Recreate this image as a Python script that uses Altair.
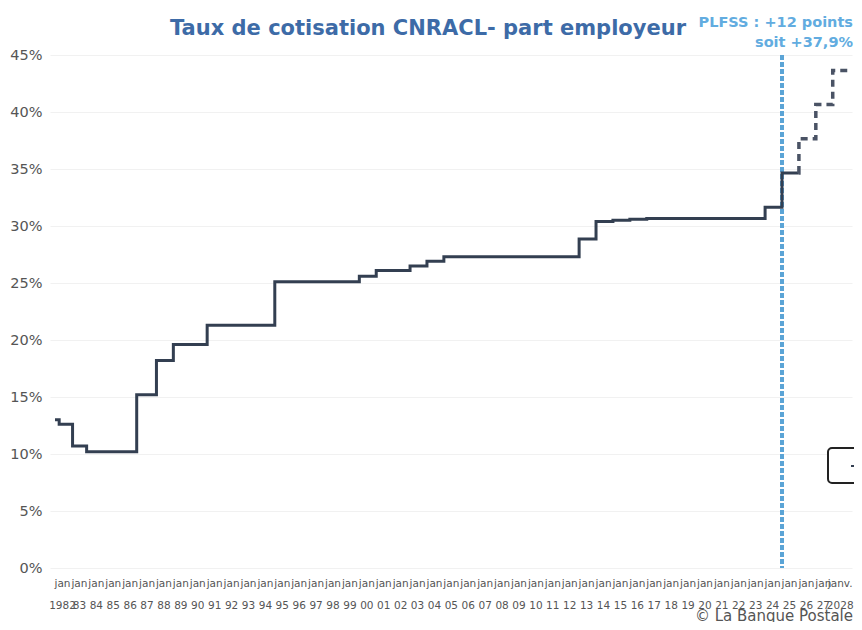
import altair as alt
import pandas as pd

# Observed employer contribution rate (CNRACL), % - change dates
solid_dates = ["1982-01-01", "1982-04-01", "1983-01-15", "1983-11-15", "1986-11-01",
               "1988-01-01", "1989-01-01", "1991-01-01", "1995-01-01", "2000-01-01",
               "2001-01-01", "2003-01-01", "2004-01-01", "2005-01-01", "2013-01-01",
               "2014-01-01", "2015-01-01", "2016-01-01", "2017-01-01", "2024-01-01",
               "2025-01-01", "2025-12-31"]
solid_rates = [13.0, 12.6, 10.7, 10.2, 15.2,
               18.2, 19.6, 21.3, 25.1, 25.6,
               26.1, 26.5, 26.9, 27.3, 28.85,
               30.4, 30.5, 30.6, 30.65, 31.65,
               34.65, 34.65]

# Projected path (PLFSS)
proj_dates = ["2025-12-31", "2026-01-01", "2027-01-01", "2028-01-01", "2028-12-31"]
proj_rates = [34.65, 37.65, 40.65, 43.65, 43.65]

plfss_date = ["2025-01-01"]

title_text = ["Taux de cotisation CNRACL- part employeur"]
annot_lines = ["PLFSS : +12 points", "soit +37,9%"]
source_text = ["© La Banque Postale"]

years = list(range(1982, 2029))
y_ticks = [0, 5, 10, 15, 20, 25, 30, 35, 40, 45]


def to_year(dates):
    d = pd.to_datetime(pd.Series(dates))
    return d.dt.year + (d.dt.dayofyear - 1) / 365.25


solid_df = pd.DataFrame({"t": to_year(solid_dates), "rate": solid_rates})
proj_df = pd.DataFrame({"t": to_year(proj_dates), "rate": proj_rates})
rule_df = pd.DataFrame({"t": to_year(plfss_date)})

FONT = "DejaVu Sans"

x_scale = alt.Scale(domain=[1981.704, 2029.14], nice=False, zero=False)
y_scale = alt.Scale(domain=[0, 45])

label_expr = (
    "[datum.value == 2028 ? 'janv.' : 'jan', "
    "(datum.value == 1982 || datum.value == 2028) ? '' + datum.value "
    ": slice('' + datum.value, 2)]"
)

x_axis = alt.Axis(
    title=None,
    values=years,
    tickCount=100,
    labelExpr=label_expr,
    labelOverlap=False,
    labelFlush=False,
    labelBound=False,
    labelFont=FONT,
    labelFontSize=10.5,
    labelColor="#555555",
    labelLineHeight=22,
    labelPadding=10,
    labelOffset=7,
    domain=False,
    ticks=False,
    grid=False,
)

y_axis = alt.Axis(
    title=None,
    values=y_ticks,
    tickCount=20,
    labelExpr="datum.value + '%'",
    labelFont=FONT,
    labelFontSize=14.5,
    labelColor="#555555",
    labelPadding=8,
    domain=False,
    ticks=False,
    grid=True,
    gridColor="#f1f1f1",
    gridWidth=1,
)

solid = alt.Chart(solid_df).mark_line(
    interpolate="step-after", color="#333f51", strokeWidth=3
).encode(
    x=alt.X("t:Q", scale=x_scale, axis=x_axis),
    y=alt.Y("rate:Q", scale=y_scale, axis=y_axis),
)

proj = alt.Chart(proj_df).mark_line(
    interpolate="step-after", color="#4a5365", strokeWidth=3.5, strokeDash=[7, 5]
).encode(
    x=alt.X("t:Q", scale=x_scale),
    y=alt.Y("rate:Q", scale=y_scale),
)

rule = alt.Chart(rule_df).mark_rule(
    color="#5ba4d6", strokeWidth=4, strokeDash=[5, 2]
).encode(
    x=alt.X("t:Q", scale=x_scale),
    y=alt.value(0),
    y2=alt.value(513),
)

title = alt.Chart(pd.DataFrame({"t": title_text})).mark_text(
    font=FONT, fontSize=21, fontWeight="bold", color="#3d6ba7",
    align="center", baseline="alphabetic"
).encode(x=alt.value(378), y=alt.value(-20), text="t:N")

annot1 = alt.Chart(pd.DataFrame({"t": [annot_lines[0]]})).mark_text(
    font=FONT, fontSize=14.5, fontWeight="bold", color="#62ace0",
    align="right", baseline="alphabetic"
).encode(x=alt.value(803), y=alt.value(-28), text="t:N")
annot2 = alt.Chart(pd.DataFrame({"t": [annot_lines[1]]})).mark_text(
    font=FONT, fontSize=14.5, fontWeight="bold", color="#62ace0",
    align="right", baseline="alphabetic"
).encode(x=alt.value(803), y=alt.value(-8), text="t:N")

source = alt.Chart(pd.DataFrame({"t": source_text})).mark_text(
    font=FONT, fontSize=15, color="#555555",
    align="right", baseline="alphabetic"
).encode(x=alt.value(803), y=alt.value(566), text="t:N")

# Cropped legend frame visible at the right edge of the original picture
legend_frame = alt.Chart(pd.DataFrame({"k": [0]})).mark_rect(
    fill="white", stroke="#222222", strokeWidth=2, cornerRadius=4
).encode(x=alt.value(778), x2=alt.value(830), y=alt.value(393), y2=alt.value(428))
legend_dash = alt.Chart(pd.DataFrame({"k": [0]})).mark_rule(
    color="#333f51", strokeWidth=2
).encode(x=alt.value(801), x2=alt.value(812), y=alt.value(411))

chart = alt.layer(rule, solid, proj, title, annot1, annot2, source,
                  legend_frame, legend_dash).properties(
    width=802,
    height=513,
    autosize=alt.AutoSizeParams(type="none"),
    padding={"left": 42, "top": 47, "right": 2, "bottom": 54},
    background="white",
).configure_view(stroke=None)

chart.save("out.html", embed_options={"renderer": "svg", "actions": False})
